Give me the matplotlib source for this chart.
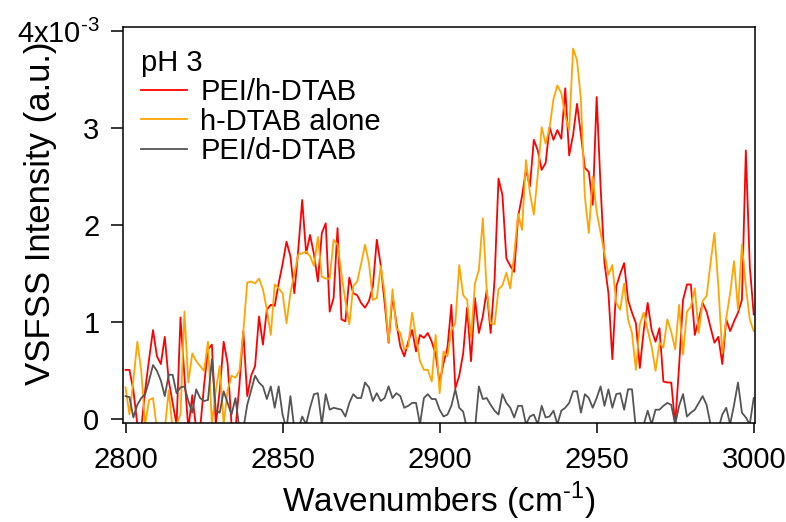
import numpy as np
import matplotlib
matplotlib.use("Agg")
from matplotlib import pyplot as plt

plt.rcParams['font.family'] = ['Liberation Sans', 'DejaVu Sans']
plt.rcParams['mathtext.fontset'] = 'custom'
plt.rcParams['mathtext.rm'] = 'Liberation Sans'

# wavenumber grid (cm-1), one reading every 1.25 cm-1
wavenumber = np.arange(161) * 1.25 + 2800

# intensities in units of 1e-3 (a.u.)
pei_h_dtab = [
    0.51, 0.51, 0.30, -0.05, -0.1, 0.30, 0.62, 0.92, 0.65, 0.57,
    0.85, 0.40, 0.17, -0.05, 1.05, 0.45, -0.1, 0.25, -0.1, -0.1,
    0.35, 0.72, 0.77, -0.05, 0.30, 0.80, 0.58, -0.05, -0.1, 0.35,
    0.91, 0.24, 0.45, 0.55, 1.06, 0.77, 1.13, 1.18, 1.17, 1.40,
    1.60, 1.83, 1.68, 1.30, 1.75, 2.26, 1.71, 1.90, 1.70, 1.42,
    1.92, 2.02, 1.11, 1.25, 1.97, 1.03, 1.01, 1.46, 1.30, 1.28,
    1.20, 1.15, 1.22, 1.37, 1.85, 1.59, 1.20, 0.79, 1.27, 0.99,
    0.75, 0.65, 0.80, 0.92, 0.70, 0.87, 0.84, 0.89, 0.80, 0.67,
    0.38, 0.58, 0.74, 1.18, 0.32, 0.45, 0.68, 1.15, 0.60, 1.25,
    0.89, 1.06, 1.33, 0.89, 1.44, 2.48, 2.31, 1.66, 1.58, 1.52,
    2.09, 2.30, 2.57, 2.40, 2.88, 2.77, 2.57, 2.64, 3.01, 2.88,
    2.98, 2.89, 3.41, 2.72, 2.93, 3.25, 2.93, 2.59, 2.55, 2.21,
    3.32, 2.40, 1.61, 1.30, 0.62, 1.37, 1.50, 1.61, 1.23, 1.10,
    0.99, 0.53, 0.92, 1.20, 0.92, 0.80, 0.94, 0.39, 0.38, 0.38,
    -0.05, 0.55, 1.23, 1.39, 1.39, 0.87, 1.03, 1.20, 1.11, 0.95,
    0.79, 0.85, 0.57, 1.03, 0.91, 1.01, 1.10, 1.23, 2.77, 1.58,
    1.08,
]

h_dtab_alone = [
    0.33, 0.05, 0.40, 0.80, 0.50, -0.05, 0.20, 0.22, -0.1, -0.1,
    -0.1, 0.30, -0.1, -0.05, 0.05, 1.11, 0.38, 0.68, 0.60, 0.55,
    0.50, 0.80, -0.05, 0.30, 0.55, -0.05, 0.30, 0.45, 0.43, 0.50,
    0.90, 1.41, 1.42, 1.40, 1.45, 1.34, 1.13, 0.87, 1.39, 1.35,
    1.30, 0.99, 1.30, 1.50, 1.70, 1.71, 1.73, 1.68, 1.58, 1.88,
    1.47, 1.45, 1.45, 1.85, 1.80, 1.50, 1.22, 0.98, 1.37, 1.42,
    1.60, 1.80, 1.61, 1.23, 1.25, 1.58, 1.30, 0.80, 1.34, 0.94,
    0.89, 0.72, 0.75, 1.10, 0.84, 0.60, 0.51, 0.51, 0.39, 0.87,
    0.27, 0.70, 0.65, 0.92, 0.99, 1.59, 1.28, 1.23, 0.84, 1.40,
    1.54, 2.07, 1.33, 0.99, 0.98, 1.34, 1.38, 1.51, 1.35, 1.70,
    2.12, 1.95, 2.67, 2.33, 2.11, 2.52, 3.01, 2.84, 3.00, 3.30,
    3.44, 3.36, 3.13, 2.98, 3.82, 3.70, 3.29, 2.29, 1.92, 2.50,
    2.14, 1.92, 1.71, 1.49, 1.59, 1.20, 1.13, 1.40, 1.03, 0.89,
    0.51, 0.98, 1.10, 0.92, 0.75, 0.50, 0.79, 0.74, 1.03, 0.90,
    0.72, 1.18, 0.67, 1.11, 1.16, 1.35, 0.89, 1.22, 1.27, 1.61,
    1.92, 1.37, 0.68, 1.04, 1.30, 1.63, 1.13, 1.80, 1.37, 1.03,
    0.91,
]

pei_d_dtab = [
    0.24, 0.23, 0.02, 0.15, 0.22, 0.26, 0.40, 0.56, 0.50, 0.40,
    0.24, 0.46, 0.46, 0.27, 0.33, 0.34, 0.19, 0.07, 0.31, 0.22,
    0.19, 0.20, 0.62, 0.09, 0.07, 0.29, 0.17, 0.05, 0.22, -0.1,
    -0.1, 0.15, 0.30, 0.45, 0.38, 0.34, 0.21, 0.34, 0.12, 0.34,
    0.05, -0.1, 0.24, -0.1, -0.1, 0.03, -0.05, 0.12, 0.26, 0.27,
    -0.05, 0.26, 0.10, 0.12, 0.11, 0.10, 0.03, 0.17, 0.26, 0.22,
    0.22, 0.38, 0.33, 0.19, 0.27, 0.19, 0.22, 0.34, 0.22, 0.27,
    0.24, 0.12, 0.14, 0.17, 0.17, -0.05, 0.22, 0.26, 0.21, 0.21,
    0.10, 0.03, 0.05, 0.14, 0.31, 0.12, 0.08, -0.1, -0.1, -0.1,
    0.34, 0.21, 0.22, 0.15, 0.09, 0.05, 0.26, 0.17, 0.12, 0.02,
    0.14, 0.14, -0.05, 0.03, 0.05, -0.05, 0.14, 0.02, 0.03, 0.09,
    -0.05, 0.09, 0.12, 0.17, 0.29, 0.29, 0.07, 0.26, 0.22, 0.12,
    0.22, 0.34, 0.14, 0.31, 0.12, 0.26, 0.27, 0.10, 0.31, 0.31,
    -0.1, -0.1, -0.05, 0.09, -0.05, 0.10, 0.10, 0.14, 0.17, 0.15,
    -0.05, 0.14, 0.26, 0.03, 0.07, 0.10, 0.17, 0.24, 0.15, -0.05,
    -0.1, -0.1, 0.05, 0.12, -0.05, 0.15, 0.38, 0.07, 0.02, -0.05,
    0.22,
]

x_ticks = [2800, 2850, 2900, 2950, 3000]
y_ticks = [0, 1, 2, 3, 4]
y_ticklabels = ['0', '1', '2', '3', '4x10$^{\\text{-3}}$']

fig = plt.figure(figsize=(7.86, 5.22), dpi=100)
ax = fig.add_axes([0.1565, 0.19, 0.804, 0.758])

ax.plot(wavenumber, pei_h_dtab, color='#ff0000', lw=1.3, label='PEI/h-DTAB')
ax.plot(wavenumber, h_dtab_alone, color='#ffa500', lw=1.3, label='h-DTAB alone')
ax.plot(wavenumber, pei_d_dtab, color='#555555', lw=1.3, label='PEI/d-DTAB')

ax.set_xlim(2799.2, 3000.4)
ax.set_ylim(-0.035, 4.04)
ax.set_xticks(x_ticks)
ax.set_yticks(y_ticks)
ax.set_yticklabels(y_ticklabels)
ax.tick_params(direction='out', width=1.1, labelsize=21)
ax.tick_params(axis='x', length=7, pad=10)
ax.tick_params(axis='y', length=9, pad=8)
for s in ax.spines.values():
    s.set_linewidth(1.1)

ax.set_xlabel('Wavenumbers (cm$^{\\text{-1}}$)', fontsize=24, labelpad=4)
ax.set_ylabel('VSFSS Intensity (a.u.)', fontsize=25)
ax.yaxis.set_label_coords(-0.105, 0.53)

leg = ax.legend(loc='upper left', bbox_to_anchor=(0.0, 0.99), frameon=False,
                fontsize=21, title='pH 3', title_fontsize=21, alignment='left',
                handlelength=1.6, handletextpad=0.45, labelspacing=0.05,
                borderaxespad=0.2)

fig.savefig('out.png', dpi=100)
